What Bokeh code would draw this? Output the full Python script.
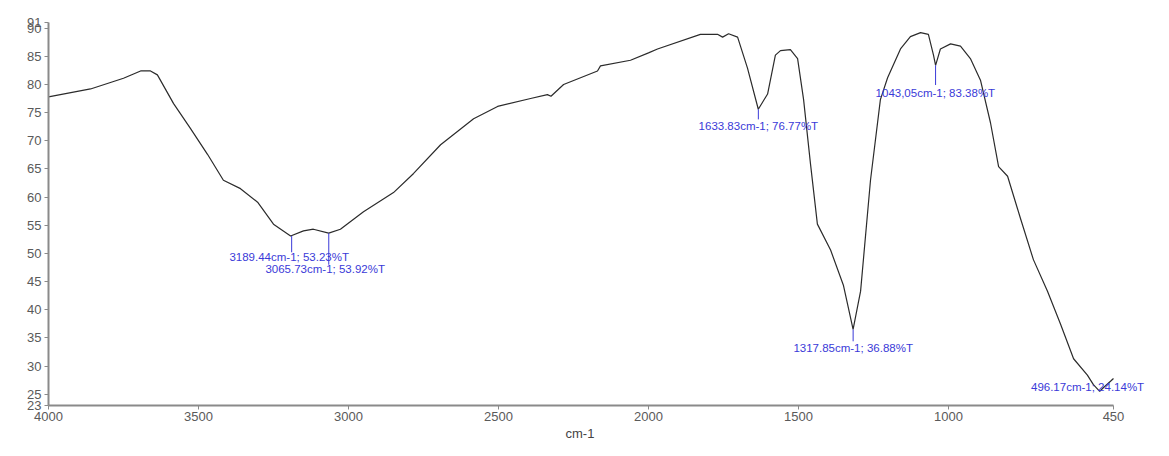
from bokeh.plotting import figure
from bokeh.models import Range1d, FixedTicker, Label, Title
from bokeh.embed import file_html
from bokeh.resources import INLINE

# ---- data ----
wavenumber = [4000, 3860, 3750, 3693, 3660, 3637, 3583, 3527, 3470, 3417, 3360, 3303, 3250,
              3193, 3150, 3117, 3066, 3027, 2950, 2850, 2783, 2693, 2583, 2503, 2393, 2337,
              2325, 2283, 2170, 2160, 2060, 2000, 1970, 1827, 1770, 1753, 1733, 1703, 1670,
              1634, 1603, 1577, 1560, 1527, 1503, 1483, 1460, 1437, 1393, 1350, 1318, 1293,
              1260, 1227, 1203, 1160, 1127, 1093, 1067, 1050, 1043, 1027, 993, 960, 927, 893,
              860, 833, 803, 760, 717, 670, 627, 583, 537, 517, 496, 483, 460, 450]
transmittance = [77.8, 79.2, 81.1, 82.4, 82.4, 81.7, 76.6, 72.2, 67.6, 63.0, 61.5, 59.1, 55.2,
                 53.1, 54.0, 54.3, 53.6, 54.3, 57.4, 60.8, 64.2, 69.3, 73.9, 76.1, 77.5, 78.2,
                 77.9, 80.0, 82.4, 83.3, 84.3, 85.6, 86.3, 88.9, 88.9, 88.4, 89.0, 88.4, 82.9,
                 75.6, 78.3, 85.2, 86.0, 86.2, 84.6, 77.3, 65.9, 55.2, 50.6, 44.3, 36.5, 43.3,
                 63.0, 77.3, 81.2, 86.3, 88.5, 89.2, 88.9, 85.2, 83.4, 86.3, 87.2, 86.8, 84.6, 80.7,
                 73.2, 65.4, 63.7, 56.2, 48.9, 43.3, 37.5, 31.3, 28.4, 26.7, 25.5, 26.2, 27.3, 27.8]

peak_wn = [3189.44, 3065.73, 1633.83, 1043.05, 1317.85, 496.17]
peak_t = [53.1, 53.6, 75.6, 83.4, 36.5, 25.5]
peak_labels = ["3189.44cm-1; 53.23%T", "3065.73cm-1; 53.92%T", "1633.83cm-1; 76.77%T",
               "1043,05cm-1; 83.38%T", "1317.85cm-1; 36.88%T", "496.17cm-1; 24.14%T"]

x_ticks = [4000, 3500, 3000, 2500, 2000, 1500, 1000, 450]
y_ticks = [23, 25, 30, 35, 40, 45, 50, 55, 60, 65, 70, 75, 80, 85, 90, 91]

# ---- layout of annotations (label anchor positions, data units) ----
label_x = [3397, 3277, 1833, 1243, 1517, 725]
label_y = [49.4, 47.2, 72.7, 78.5, 33.2, 26.2]
marker_end = [50.2, 48.0, 73.8, 79.9, 34.4, 25.5]

# frame spans a little past 450 so the last label is not clipped; axis line stops at 450
p = figure(width=1153, height=440, output_backend="svg", toolbar_location=None,
           x_range=Range1d(4000, 323.3), y_range=Range1d(23, 91),
           min_border_left=48, min_border_right=2, min_border_top=22, min_border_bottom=0)
p.background_fill_color = "white"
p.border_fill_color = "white"
p.outline_line_color = None
p.grid.visible = False

for ax in (p.xaxis[0], p.yaxis[0]):
    ax.axis_line_color = "#8a8a8a"
    ax.axis_line_width = 2
    ax.major_tick_line_color = "#8a8a8a"
    ax.major_tick_in = 0
    ax.major_tick_out = 4
    ax.minor_tick_line_color = None
    ax.major_label_text_color = "#5a5a5a"
    ax.major_label_text_font = "Liberation Sans"
    ax.major_label_text_font_size = "13px"

p.xaxis.bounds = (450, 4000)
p.xaxis.ticker = FixedTicker(ticks=x_ticks)
p.yaxis.ticker = FixedTicker(ticks=y_ticks)
p.xaxis.major_label_standoff = 2
p.yaxis.major_label_standoff = 3

p.add_layout(Title(text="cm-1", align="left", offset=517, standoff=0,
                   text_font="Liberation Sans", text_font_size="13px",
                   text_font_style="normal", text_color="#444444"), "below")

p.line(wavenumber, transmittance, line_color="#2b2b2b", line_width=1.2)

blue = "#3a3ad8"
p.segment(x0=peak_wn, y0=peak_t, x1=peak_wn, y1=marker_end, line_color=blue, line_width=1)

for lx, ly, txt in zip(label_x, label_y, peak_labels):
    p.add_layout(Label(x=lx, y=ly, text=txt, text_color=blue, text_font="Liberation Sans",
                       text_font_size="11.5px", text_align="left", text_baseline="middle"))

open("out.html", "w").write(file_html(p, INLINE))
